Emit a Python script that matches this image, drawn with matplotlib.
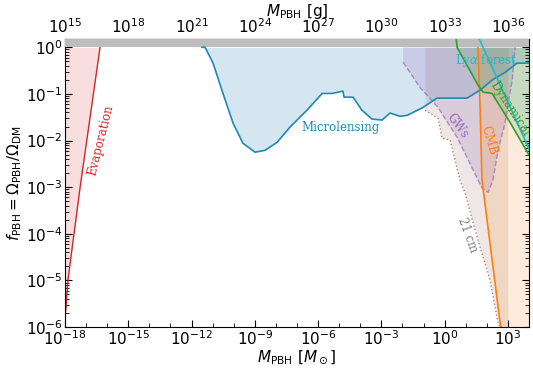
import numpy as np
import matplotlib.pyplot as plt
from matplotlib.ticker import LogLocator, NullFormatter

# all constraints as log10(M / Msun), log10(f_PBH)
evap_logm = [-18.0, -17.95, -17.86, -17.29, -16.34]
evap_logf = [-5.75, -5.57, -4.99, -3.02, 0.0]

micro_logm = [-11.5, -11.36, -10.98, -10.51, -10.03, -9.56, -8.99, -8.52, -7.95,
              -7.33, -6.53, -5.81, -5.34, -4.82, -4.77, -4.34, -3.92, -3.44,
              -2.97, -2.59, -2.12, -1.78, -1.03, -0.36, 1.06, 1.68, 2.29, 2.86,
              3.43, 4.0]
micro_logf = [0.0, 0.0, -0.34, -0.99, -1.63, -2.06, -2.25, -2.21, -2.04,
              -1.71, -1.35, -0.99, -0.99, -0.94, -1.07, -1.07, -1.35, -1.54,
              -1.56, -1.41, -1.48, -1.46, -1.29, -1.09, -1.09, -0.92, -0.69, -0.54,
              -0.34, -0.34]

gw_logm = [-1.97, -1.97, -1.17, -0.31, 0.59, 1.20, 1.77, 2.06, 2.29, 2.53, 2.86, 3.0, 3.2, 3.34]
gw_logf = [0.0, -0.32, -0.86, -1.29, -1.93, -2.49, -3.02, -3.11, -2.85, -2.21, -1.63, -1.24, -0.71, 0.0]

cm21_logm = [-0.93, -0.31, -0.12, 0.26, 0.73, 0.97, 1.35, 1.68, 2.15, 2.53, 2.63, 3.0]
cm21_logf = [-1.35, -1.52, -1.95, -1.99, -2.85, -3.13, -3.77, -4.29, -4.99, -5.91, -6.0, -6.0]

cmb_logm = [1.58, 1.68, 1.77, 2.15, 2.63, 2.67]
cmb_logf = [0.0, -1.29, -2.85, -4.20, -5.91, -6.0]

dyn_logm = [0.55, 0.59, 1.58, 1.82, 2.25, 3.10, 4.0]
dyn_logf = [0.17, 0.0, -0.81, -0.96, -0.99, -1.61, -2.31]

lya_logm = [1.65, 1.82, 4.0]
lya_logf = [0.17, 0.0, -2.18]

top_ticks_g = [1e15, 1e18, 1e21, 1e24, 1e27, 1e30, 1e33, 1e36]

XMIN, XMAX = 1e-18, 1e4
YMIN, YMAX = 1e-6, 1.5
G_PER_MSUN = 1e33


def lin(a):
    return 10.0 ** np.asarray(a)


plt.rcParams['font.size'] = 11
fig = plt.figure(figsize=(5.33, 3.71), dpi=100)
ax = fig.add_axes([0.122, 0.1186, 0.8705, 0.776])

c_evap = '#d62728'
c_micro = '#1f8ab4'
c_gw = '#9467bd'
c_21 = '#8c564b'
c_cmb = '#ff7f0e'
c_dyn = '#2ca02c'
c_lya = '#17becf'

# evaporation
m, f = lin(evap_logm), lin(evap_logf)
ax.fill_between(m, f, 1, color=c_evap, alpha=0.15, lw=0)
ax.plot(m, f, color=c_evap, lw=1)

# microlensing
m, f = lin(micro_logm), lin(micro_logf)
ax.fill_between(m, f, 1, color='#1f77b4', alpha=0.18, lw=0)
ax.plot(m, f, color=c_micro, lw=1.2, zorder=5)

# gravitational waves
m, f = lin(gw_logm), lin(gw_logf)
ax.fill(m, f, color=c_gw, alpha=0.2, lw=0)
ax.plot(m[1:], f[1:], color=c_gw, ls='--', lw=1, alpha=0.7)

# 21 cm
m, f = lin(cm21_logm), lin(cm21_logf)
ax.fill_between(m, f, 1, color=c_21, alpha=0.14, lw=0)
ax.plot(m[:-1], f[:-1], color=c_21, ls=':', lw=1, alpha=0.7)

# CMB
m, f = lin(cmb_logm), lin(cmb_logf)
ax.fill_betweenx(f, m, XMAX, color=c_cmb, alpha=0.15, lw=0)
ax.plot(m, f, color=c_cmb, lw=1.2)

# dynamical
m, f = lin(dyn_logm), lin(dyn_logf)
ax.fill_between(m, f, 1, color=c_dyn, alpha=0.15, lw=0)
ax.plot(m, f, color=c_dyn, lw=1.2, zorder=6)

# Lyman-alpha forest
m, f = lin(lya_logm), lin(lya_logf)
ax.fill_between(m, f, 1, color=c_lya, alpha=0.12, lw=0)
ax.plot(m, f, color=c_lya, lw=1.2, zorder=6)

# f > 1 excluded
ax.axhspan(1, YMAX, color='#bdbdbd', zorder=4, lw=0)

txt = dict(family='DejaVu Serif', fontsize=8.5, ha='center', va='center', zorder=7)
ax.text(lin(-4.96), lin(-1.71), 'Microlensing', color=c_micro, **txt)
ax.text(lin(-16.29), lin(-1.99), 'Evaporation', color=c_evap, rotation=76, **txt)
ax.text(lin(0.63), lin(-1.69), 'GWs', color=c_gw, rotation=-53, **txt)
ax.text(lin(2.10), lin(-1.99), 'CMB', color=c_cmb, rotation=-74, **txt)
ax.text(lin(1.96), lin(-0.28), r'Ly$\alpha$ forest', color=c_lya, **txt)
ax.text(lin(3.10), lin(-1.31), 'Dynamical', color=c_dyn, rotation=-57, clip_on=True, **txt)
ax.text(lin(1.06), lin(-4.03), '21 cm', color='#7f7f7f', rotation=-70, **txt)

ax.set_xscale('log')
ax.set_yscale('log')
ax.set_xlim(XMIN, XMAX)
ax.set_ylim(YMIN, YMAX)

ax.xaxis.set_major_locator(LogLocator(base=1000, numticks=20))
ax.xaxis.set_minor_locator(LogLocator(base=10, subs=(1.0,), numticks=40))
ax.xaxis.set_minor_formatter(NullFormatter())
ax.yaxis.set_major_locator(LogLocator(base=10, numticks=20))
ax.yaxis.set_minor_locator(LogLocator(base=10, subs=np.arange(2, 10), numticks=20))
ax.yaxis.set_minor_formatter(NullFormatter())
ax.tick_params(which='both', direction='in', right=True, top=False, pad=2)
ax.tick_params(which='major', length=5)
ax.tick_params(which='minor', length=3)

ax.set_xlabel(r'$M_{\rm PBH}$ [$M_\odot$]', labelpad=0)
ax.set_ylabel(r'$f_{\rm PBH} = \Omega_{\rm PBH}/\Omega_{\rm DM}$', labelpad=1)

sec = ax.secondary_xaxis('top', functions=(lambda x: x * G_PER_MSUN, lambda x: x / G_PER_MSUN))
sec.set_xticks(top_ticks_g)
sec.xaxis.set_minor_locator(LogLocator(base=10, subs=(1.0,), numticks=40))
sec.xaxis.set_minor_formatter(NullFormatter())
sec.tick_params(which='both', direction='in', pad=2)
sec.tick_params(which='major', length=5)
sec.tick_params(which='minor', length=3)
sec.set_xlabel(r'$M_{\rm PBH}$ [g]', labelpad=1)

fig.savefig('out.png', dpi=100)
